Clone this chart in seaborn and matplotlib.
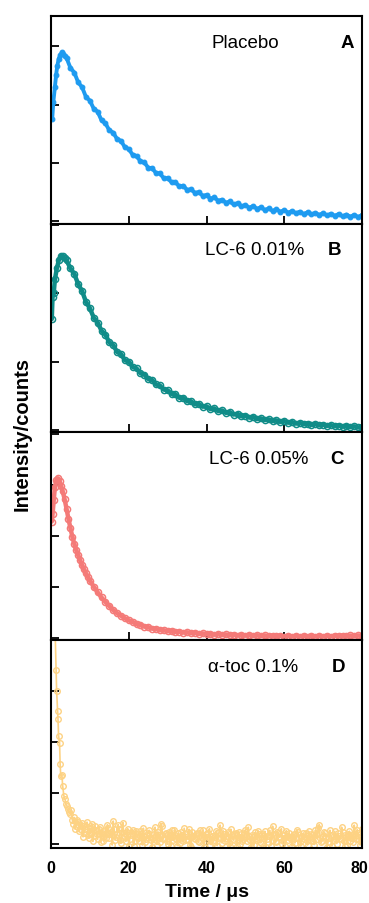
import numpy as np
import pandas as pd
import matplotlib
matplotlib.use("Agg")
import matplotlib.pyplot as plt
import matplotlib.transforms as mtransforms
import seaborn as sns

# ---------------- data ----------------
t_A = [0.3, 0.6, 1.0, 1.3, 1.6, 2.0, 2.4, 2.8, 3.2, 3.6,
       4, 5, 6, 7, 8, 9, 10, 11, 12, 13, 14, 15, 16, 17, 18, 19, 20,
       21, 22, 23, 24, 25, 26, 27, 28, 29, 30, 31, 32, 33, 34, 35, 36, 37, 38, 39, 40,
       41, 42, 43, 44, 45, 46, 47, 48, 49, 50, 51, 52, 53, 54, 55, 56, 57, 58, 59, 60,
       61, 62, 63, 64, 65, 66, 67, 68, 69, 70, 71, 72, 73, 74, 75, 76, 77, 78, 79, 80]
y_A = [1.75, 2.05, 2.30, 2.50, 2.66, 2.79, 2.85, 2.90, 2.86, 2.83,
       2.80, 2.63, 2.55, 2.38, 2.30, 2.13, 2.07, 1.93, 1.88, 1.73, 1.68, 1.56, 1.52, 1.41, 1.38, 1.27, 1.24,
       1.14, 1.12, 1.03, 1.01, 0.92, 0.91, 0.83, 0.82, 0.74, 0.74, 0.67, 0.67, 0.60, 0.61, 0.54, 0.55, 0.49, 0.50, 0.44, 0.45,
       0.39, 0.41, 0.355, 0.37, 0.32, 0.34, 0.29, 0.31, 0.26, 0.28, 0.235, 0.26, 0.215, 0.24, 0.195, 0.22, 0.18, 0.205, 0.165, 0.19,
       0.15, 0.175, 0.14, 0.165, 0.125, 0.155, 0.12, 0.145, 0.11, 0.14, 0.10, 0.13, 0.095, 0.125, 0.085, 0.115, 0.08, 0.11, 0.075, 0.105]

t_B = [0.2, 0.4, 0.7, 1.0, 1.5, 2.0, 2.5, 3.0, 3.5,
       4, 5, 6, 7, 8, 9, 10, 11, 12, 13, 14, 15, 16, 17, 18, 19, 20,
       21, 22, 23, 24, 25, 26, 27, 28, 29, 30, 31, 32, 33, 34, 35, 36, 37, 38, 39, 40,
       41, 42, 43, 44, 45, 46, 47, 48, 49, 50, 51, 52, 53, 54, 55, 56, 57, 58, 59, 60,
       61, 62, 63, 64, 65, 66, 67, 68, 69, 70, 71, 72, 73, 74, 75, 76, 77, 78, 79, 80]
y_B = [1.62, 1.95, 2.00, 2.20, 2.36, 2.48, 2.54, 2.54, 2.51,
       2.48, 2.36, 2.28, 2.13, 2.03, 1.87, 1.78, 1.64, 1.57, 1.45, 1.39, 1.28, 1.24, 1.14, 1.11, 1.02, 1.00,
       0.92, 0.90, 0.83, 0.81, 0.745, 0.73, 0.665, 0.65, 0.59, 0.58, 0.525, 0.52, 0.47, 0.47, 0.42, 0.42, 0.375, 0.38, 0.34, 0.345,
       0.305, 0.315, 0.275, 0.285, 0.25, 0.26, 0.225, 0.235, 0.20, 0.21, 0.18, 0.19, 0.16, 0.17, 0.145, 0.155, 0.13, 0.14, 0.117, 0.13,
       0.105, 0.115, 0.092, 0.104, 0.082, 0.094, 0.074, 0.086, 0.066, 0.078, 0.06, 0.07, 0.054, 0.064, 0.048, 0.058, 0.042, 0.053, 0.036, 0.046]

t_C = [0.2, 0.4, 0.7, 1.0, 1.4, 1.8, 2.2, 2.6, 3.0, 3.5, 4.0, 4.5, 5.0, 5.5, 6.0, 6.5,
       7.0, 7.5, 8.0, 8.5, 9.0, 9.5, 10, 11, 12, 13, 14, 15, 16, 17, 18, 19, 20,
       21, 22, 23, 24, 25, 26, 27, 28, 29, 30, 31, 32, 33, 34, 35, 36, 37, 38, 39, 40,
       41, 42, 43, 44, 45, 46, 47, 48, 49, 50, 51, 52, 53, 54, 55, 56, 57, 58, 59, 60,
       61, 62, 63, 64, 65, 66, 67, 68, 69, 70, 71, 72, 73, 74, 75, 76, 77, 78, 79, 80]
y_C = [2.28, 2.42, 2.70, 2.95, 3.10, 3.13, 3.08, 2.98, 2.88, 2.72, 2.53, 2.33, 2.15, 1.98, 1.84, 1.72,
       1.62, 1.52, 1.42, 1.34, 1.26, 1.19, 1.12, 1.00, 0.89, 0.79, 0.70, 0.62, 0.54, 0.48, 0.43, 0.38, 0.34,
       0.31, 0.265, 0.25, 0.215, 0.205, 0.175, 0.17, 0.145, 0.145, 0.125, 0.13, 0.11, 0.118, 0.098, 0.105, 0.085, 0.093, 0.073, 0.083, 0.065,
       0.075, 0.056, 0.068, 0.05, 0.063, 0.045, 0.058, 0.04, 0.055, 0.037, 0.05, 0.032, 0.047, 0.028, 0.044, 0.025, 0.041, 0.022, 0.039, 0.021,
       0.038, 0.02, 0.037, 0.02, 0.038, 0.019, 0.037, 0.02, 0.038, 0.02, 0.039, 0.021, 0.04, 0.022, 0.041, 0.022, 0.042, 0.024, 0.044, 0.026]

t_D = [1.1, 1.3, 1.45, 1.7, 1.8, 1.95, 2.2, 2.35, 2.5, 2.8, 3.0, 3.3, 3.6, 3.85, 4.1, 4.45, 4.7,
       5.0, 5.5, 6.0, 6.5, 7.0, 7.5, 8.0, 8.5, 9.0, 9.5, 10.0, 10.5, 11.0, 11.5, 12.0, 12.5,
       13.0, 13.5, 14.0, 14.5, 15.0, 15.5, 16.0, 16.5, 17.0, 17.5, 18.0, 18.5, 19.0, 19.5, 20.0,
       20.5, 21.0, 21.5, 22.0, 22.5, 23.0, 23.5, 24.0, 24.5, 25.0, 25.5, 26.0, 26.5, 27.0, 27.5,
       28.0, 28.5, 29.0, 29.5, 30.0, 30.5, 31.0, 31.5, 32.0, 32.5, 33.0, 33.5, 34.0, 34.5, 35.0,
       35.5, 36.0, 36.5, 37.0, 37.5, 38.0, 38.5, 39.0, 39.5, 40.0, 40.5, 41.0, 41.5, 42.0, 42.5,
       43.0, 43.5, 44.0, 44.5, 45.0, 45.5, 46.0, 46.5, 47.0, 47.5, 48.0, 48.5, 49.0, 49.5, 50.0,
       50.5, 51.0, 51.5, 52.0, 52.5, 53.0, 53.5, 54.0, 54.5, 55.0, 55.5, 56.0, 56.5, 57.0, 57.5,
       58.0, 58.5, 59.0, 59.5, 60.0, 60.5, 61.0, 61.5, 62.0, 62.5, 63.0, 63.5, 64.0, 64.5, 65.0,
       65.5, 66.0, 66.5, 67.0, 67.5, 68.0, 68.5, 69.0, 69.5, 70.0, 70.5, 71.0, 71.5, 72.0, 72.5,
       73.0, 73.5, 74.0, 74.5, 75.0, 75.5, 76.0, 76.5, 77.0, 77.5, 78.0, 78.5, 79.0, 79.5, 80.0]
y_D = [4.05, 3.41, 3.00, 2.61, 2.45, 2.12, 1.99, 1.57, 1.34, 1.36, 1.14, 0.95, 0.88, 0.78, 0.75, 0.69, 0.62,
       0.58, 0.47, 0.52, 0.36, 0.44, 0.30, 0.41, 0.22, 0.35, 0.18, 0.31, 0.40, 0.15, 0.28, 0.09, 0.33,
       0.21, 0.06, 0.27, 0.38, 0.12, 0.24, 0.45, 0.08, 0.19, 0.30, 0.02, 0.42, 0.14, 0.23, -0.04,
       0.17, 0.28, 0.06, 0.20, 0.11, 0.25, -0.02, 0.16, 0.09, 0.22, 0.13, -0.05, 0.19, 0.08, 0.24,
       0.04, 0.36, 0.12, 0.21, 0.01, 0.15, 0.27, 0.07, 0.18, -0.03, 0.14, 0.23, 0.05, 0.20, 0.10,
       0.29, -0.06, 0.16, 0.09, 0.22, 0.03, 0.18, 0.27, 0.06, 0.13, 0.21, -0.01, 0.15, 0.08, 0.26,
       0.11, 0.37, 0.02, 0.19, 0.12, 0.24, -0.04, 0.17, 0.07, 0.22, 0.14, 0.01, 0.20, 0.10, 0.28,
       0.05, 0.16, -0.05, 0.13, 0.23, 0.08, 0.19, 0.02, 0.15, 0.25, 0.09, 0.18, -0.03, 0.35, 0.12,
       0.06, 0.21, 0.14, 0.00, 0.17, 0.26, 0.07, 0.13, -0.04, 0.20, 0.11, 0.24, 0.04, 0.16, 0.09,
       0.22, -0.02, 0.14, 0.19, 0.06, 0.27, 0.10, 0.38, 0.03, 0.15, 0.21, -0.05, 0.12, 0.18, 0.07,
       0.25, 0.01, 0.16, 0.10, 0.23, -0.03, 0.13, 0.20, 0.06, 0.17, 0.37, 0.09, 0.21, -0.02, 0.30]

# interleaved D samples
t_D2 = [5.25, 5.75, 6.25, 6.75, 7.25, 7.75, 8.25, 8.75, 9.25, 9.75,
        10.25, 10.75, 11.25, 11.75, 12.25, 12.75, 13.25, 13.75, 14.25, 14.75,
        15.25, 15.75, 16.25, 16.75, 17.25, 17.75, 18.25, 18.75, 19.25, 19.75,
        20.25, 20.75, 21.25, 21.75, 22.25, 22.75, 23.25, 23.75, 24.25, 24.75,
        25.25, 25.75, 26.25, 26.75, 27.25, 27.75, 28.25, 28.75, 29.25, 29.75,
        30.25, 30.75, 31.25, 31.75, 32.25, 32.75, 33.25, 33.75, 34.25, 34.75,
        35.25, 35.75, 36.25, 36.75, 37.25, 37.75, 38.25, 38.75, 39.25, 39.75,
        40.25, 40.75, 41.25, 41.75, 42.25, 42.75, 43.25, 43.75, 44.25, 44.75,
        45.25, 45.75, 46.25, 46.75, 47.25, 47.75, 48.25, 48.75, 49.25, 49.75,
        50.25, 50.75, 51.25, 51.75, 52.25, 52.75, 53.25, 53.75, 54.25, 54.75,
        55.25, 55.75, 56.25, 56.75, 57.25, 57.75, 58.25, 58.75, 59.25, 59.75,
        60.25, 60.75, 61.25, 61.75, 62.25, 62.75, 63.25, 63.75, 64.25, 64.75,
        65.25, 65.75, 66.25, 66.75, 67.25, 67.75, 68.25, 68.75, 69.25, 69.75,
        70.25, 70.75, 71.25, 71.75, 72.25, 72.75, 73.25, 73.75, 74.25, 74.75,
        75.25, 75.75, 76.25, 76.75, 77.25, 77.75, 78.25, 78.75, 79.25, 79.75]
y_D2 = [0.66, 0.40, 0.29, 0.48, 0.25, 0.37, 0.14, 0.29, 0.43, 0.12,
        0.22, 0.05, 0.36, 0.19, 0.30, 0.03, 0.25, 0.16, 0.11, 0.32,
        0.20, -0.02, 0.29, 0.13, 0.38, 0.07, 0.24, 0.16, 0.05, 0.30,
        0.10, 0.21, -0.03, 0.26, 0.14, 0.05, 0.19, 0.31, 0.03, 0.18,
        0.27, 0.07, 0.12, 0.33, -0.01, 0.17, 0.40, 0.09, 0.20, 0.06,
        0.24, -0.04, 0.13, 0.28, 0.10, 0.21, 0.02, 0.17, 0.31, 0.08,
        0.15, -0.02, 0.24, 0.11, 0.19, 0.05, 0.27, 0.13, -0.05, 0.20,
        0.09, 0.30, 0.14, 0.04, 0.18, -0.03, 0.23, 0.12, 0.26, 0.06,
        0.16, 0.02, 0.29, 0.10, 0.19, -0.04, 0.24, 0.13, 0.05, 0.21,
        0.15, 0.33, 0.07, 0.18, -0.02, 0.12, 0.26, 0.04, 0.20, 0.11,
        -0.05, 0.16, 0.27, 0.08, 0.19, 0.03, 0.24, 0.13, 0.30, 0.07,
        -0.03, 0.15, 0.22, 0.10, 0.18, 0.02, 0.28, 0.12, -0.04, 0.21,
        0.14, 0.05, 0.25, 0.09, 0.17, -0.01, 0.20, 0.31, 0.11, 0.06,
        0.23, 0.14, 0.03, 0.27, -0.04, 0.16, 0.09, 0.21, 0.12, 0.33,
        0.05, 0.18, -0.02, 0.25, 0.11, 0.04, 0.19, 0.28, 0.08, 0.15]

panel_names = ["Placebo", "LC-6 0.01%", "LC-6 0.05%", "\u03b1-toc 0.1%"]
panel_letters = ["A", "B", "C", "D"]
panel_colors = ["#1E9BF0", "#108C88", "#F47A78", "#FDD283"]
x_ticks = [0, 20, 40, 60, 80]

# ---------------- styling ----------------
sns.set_style("ticks")
plt.rcParams["font.family"] = ["Liberation Sans", "DejaVu Sans"]
for k in ["text.color", "axes.labelcolor", "xtick.color", "ytick.color", "axes.edgecolor"]:
    plt.rcParams[k] = "black"

fig = plt.figure(figsize=(3.69, 9.04), dpi=100)
gs = fig.add_gridspec(4, 1, left=51/369, right=362/369, top=1-17/904, bottom=1-849/904, hspace=0)
axes = [fig.add_subplot(gs[i]) for i in range(4)]

df_D = pd.DataFrame({"t": t_D + t_D2, "y": y_D + y_D2}).sort_values("t")
frames = [pd.DataFrame({"t": t_A, "y": y_A}), pd.DataFrame({"t": t_B, "y": y_B}),
          pd.DataFrame({"t": t_C, "y": y_C}), df_D]
ylims = [(-0.046, 3.52), (-0.03, 3.01), (-0.047, 4.04), (-0.078, 4.0)]
yticks = [[0, 1, 2, 3], [0, 1, 2, 3], [0, 1, 2, 3, 4], [0, 1, 2, 3, 4]]
label_pos = [(0.624, 0.875, 0.952), (0.654, 0.876, 0.910), (0.667, 0.871, 0.921), (0.651, 0.871, 0.923)]

for i, ax in enumerate(axes):
    df = frames[i]
    c = panel_colors[i]
    if i == 0:
        sns.lineplot(data=df, x="t", y="y", ax=ax, color=c, sort=False, estimator=None,
                     lw=2.8, marker="o", markersize=3.4, markeredgewidth=0.8,
                     markerfacecolor=c, markeredgecolor=c)
    elif i < 3:
        sns.lineplot(data=df, x="t", y="y", ax=ax, color=c, sort=False, estimator=None,
                     lw=3.2, marker="o", markersize=4.4, markeredgewidth=1.1,
                     markerfacecolor="none", markeredgecolor=c)
    else:
        sns.lineplot(data=df, x="t", y="y", ax=ax, color=c, sort=False, estimator=None,
                     lw=1.2, marker="o", markersize=4.0, markeredgewidth=1.0,
                     markerfacecolor="none", markeredgecolor=c)
    ax.set_xlim(0, 80)
    ax.set_ylim(*ylims[i])
    ax.set_yticks(yticks[i])
    ax.set_yticklabels([])
    ax.set_xticks(x_ticks)
    ax.set_xlabel("")
    ax.set_ylabel("")
    for s in ax.spines.values():
        s.set_linewidth(1.5)
        s.set_color("black")
        s.set_visible(True)
        s.set_zorder(5)
    ax.tick_params(axis="both", direction="in", length=6, width=1.3, color="black",
                   top=False, right=False)
    if i < 3:
        ax.set_xticklabels([])
    else:
        ax.set_xticklabels([str(v) for v in x_ticks], fontsize=11.5, fontweight="bold")
        ax.tick_params(axis="x", pad=9)
    xp, yp, xl = label_pos[i]
    ax.text(xp, yp, panel_names[i], transform=ax.transAxes, ha="center", va="center",
            fontsize=13.5, color="black")
    ax.text(xl, yp, panel_letters[i], transform=ax.transAxes, ha="center", va="center",
            fontsize=13.5, fontweight="bold", color="black")

# keep the last tick label inside the canvas
last = axes[3].get_xticklabels()[-1]
last.set_transform(last.get_transform() + mtransforms.ScaledTranslation(-3/100, 0, fig.dpi_scale_trans))

fig.text(22/369, 1-434/904, "Intensity/counts", rotation=90, ha="center", va="center",
         fontsize=14.5, fontweight="bold", color="black")
fig.text(207/369, 1-893/904, "Time / \u03bcs", ha="center", va="center",
         fontsize=14, fontweight="bold", color="black")

fig.savefig("out.png", dpi=100)
